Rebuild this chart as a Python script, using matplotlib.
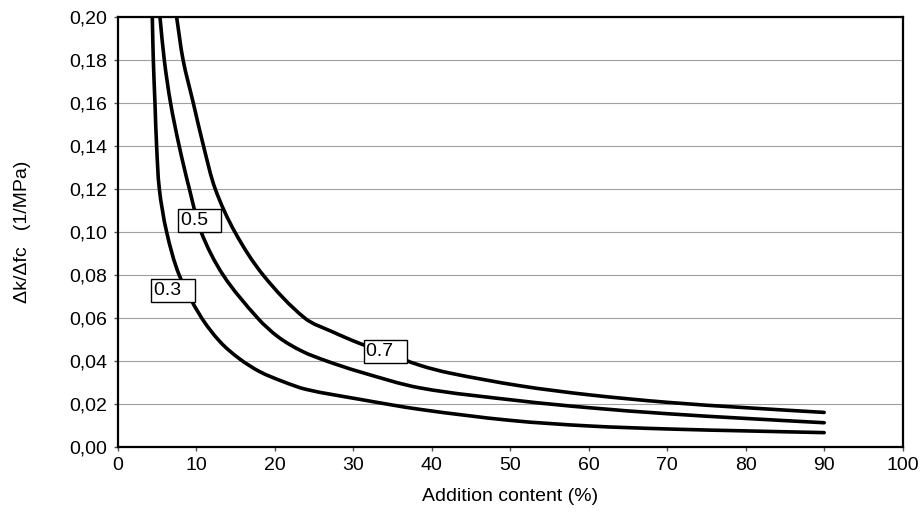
import numpy as np
import matplotlib
matplotlib.use('Agg')
import matplotlib.pyplot as plt
from matplotlib.path import Path
from matplotlib.patches import PathPatch
from matplotlib.ticker import FuncFormatter

plt.rcParams['font.family'] = ['Liberation Sans', 'DejaVu Sans']

# curvas
x03 = [4.37, 4.5, 4.71, 4.92, 5.27, 6.2, 7.8, 10.5, 13.0, 15.5, 18.1, 21.0, 24.0, 30.8, 38.5, 50.0, 60.0, 70.0, 80.0, 90.0]
y03 = [0.20, 0.18, 0.16, 0.14, 0.12, 0.10, 0.08, 0.061, 0.049, 0.041, 0.035, 0.0305, 0.0268, 0.0222, 0.0175, 0.0124, 0.0098, 0.0084, 0.0075, 0.0067]

x05 = [5.35, 5.9, 6.7, 7.8, 9.1, 10.6, 13.4, 17.8, 20.5, 23.5, 26.6, 30.8, 38.5, 51.2, 60.0, 70.0, 80.0, 90.0]
y05 = [0.20, 0.18, 0.16, 0.14, 0.12, 0.10, 0.08, 0.06, 0.051, 0.0445, 0.040, 0.035, 0.0275, 0.0215, 0.0183, 0.0155, 0.0133, 0.0113]

x07 = [7.47, 8.3, 9.6, 10.9, 12.4, 14.9, 18.5, 23.8, 27.4, 30.8, 34.0, 38.5, 42.3, 51.2, 60.0, 70.0, 80.0, 90.0]
y07 = [0.20, 0.18, 0.16, 0.14, 0.12, 0.10, 0.08, 0.06, 0.0535, 0.0482, 0.044, 0.038, 0.0344, 0.0285, 0.0243, 0.0208, 0.0183, 0.0161]

etiquetas = ['0.3  ', '0.5  ', '0.7  ']
pos_etiq = [(7.02, 0.0728), (10.38, 0.1055), (34.08, 0.0445)]

# escala aproximada en pixeles, solo para la direccion de las tangentes
SX, SY = 7.85, 2150.0


# linea suavizada tipo excel (bezier entre los puntos leidos)
def suave(ax, xs, ys):
    p = np.column_stack([np.array(xs) * SX, np.array(ys) * SY])
    n = len(p)
    tang = []
    for i in range(n):
        a = p[max(i - 1, 0)]
        b = p[min(i + 1, n - 1)]
        d = b - a
        tang.append(d / np.hypot(*d))
    verts = [p[0]]
    codes = [Path.MOVETO]
    for i in range(n - 1):
        L = np.hypot(*(p[i + 1] - p[i])) / 3.0
        verts += [p[i] + tang[i] * L, p[i + 1] - tang[i + 1] * L, p[i + 1]]
        codes += [Path.CURVE4] * 3
    verts = np.array(verts) / [SX, SY]
    ax.add_patch(PathPatch(Path(verts, codes), fill=False, ec='black', lw=2.6,
                           capstyle='round', joinstyle='round', zorder=3))


fig = plt.figure(figsize=(9.22, 5.21), dpi=100)
ax = fig.add_axes([0.128, 0.142, 0.851, 0.825])

for xs, ys in [(x03, y03), (x05, y05), (x07, y07)]:
    suave(ax, xs, ys)

for t, (xx, yy) in zip(etiquetas, pos_etiq):
    ax.text(xx, yy, t, fontsize=14, ha='center', va='center', zorder=5,
            bbox=dict(boxstyle='square,pad=0.15', fc='white', ec='black', lw=1.0))

ax.set_xlim(0, 100)
ax.set_ylim(0, 0.20)
ax.set_xticks(np.arange(0, 101, 10))
ax.set_yticks(np.arange(0, 0.201, 0.02))
ax.yaxis.set_major_formatter(FuncFormatter(lambda v, p: ('%.2f' % v).replace('.', ',')))
ax.yaxis.grid(True, color='#a0a0a0', lw=0.8)
ax.set_axisbelow(True)
ax.tick_params(axis='both', labelsize=14, direction='out', length=3, width=1, color='#555555')
ax.tick_params(axis='y', pad=5)
ax.tick_params(axis='x', pad=4)
for s in ax.spines.values():
    s.set_linewidth(1.6)
    s.set_color('black')

ax.set_xlabel('Addition content (%)', fontsize=14, labelpad=10)
ax.set_ylabel('\u0394k/\u0394fc   (1/MPa)', fontsize=14, labelpad=27)

fig.savefig('out.png', dpi=100)
